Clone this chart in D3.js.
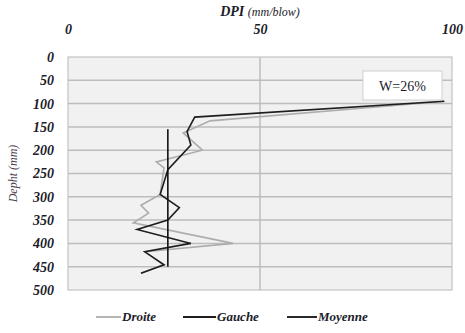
<!DOCTYPE html>
<html>
<head>
<meta charset="utf-8">
<script src="https://cdn.jsdelivr.net/npm/d3@7"></script>
<style>
  html, body { margin: 0; padding: 0; background: #ffffff; }
  svg { display: block; }
  svg text { font-family: "Liberation Serif", "Times New Roman", Tinos, "DejaVu Serif", serif; }
</style>
</head>
<body>
<svg id="chart" width="465" height="333"></svg>
<script>
// Depth profile (mm) against penetration index (mm/blow)
const droiteDepth = [95, 137, 163, 200, 225, 238, 295, 318, 335, 356, 400, 418, 446, 464];
const droiteDPI   = [98, 37, 30, 35, 23, 25, 24, 19, 21, 17, 43, 20, 25, 19];

const gaucheDepth = [95, 129, 160, 189, 242, 295, 323, 350, 370, 400, 418, 446, 464];
const gaucheDPI   = [98, 33, 31, 32, 26, 24, 29, 26, 18, 32, 20, 25, 19];

const moyenneDepth = [155, 450];
const moyenneDPI   = [26, 26];

const xTicks = [0, 50, 100];
const yTicks = [0, 50, 100, 150, 200, 250, 300, 350, 400, 450, 500];
const moistureLabel = "W=26%";

const svg = d3.select("#chart");
const margin = { left: 68, right: 13, top: 57, bottom: 43 };
const W = 465, H = 333;
const iw = W - margin.left - margin.right;
const ih = H - margin.top - margin.bottom;

const x = d3.scaleLinear().domain([0, 100]).range([margin.left, margin.left + iw]);
const y = d3.scaleLinear().domain([0, 500]).range([margin.top, margin.top + ih]);

const textCol = "#1c1c2a";

// plot background
svg.append("rect")
  .attr("x", x(0)).attr("y", y(0))
  .attr("width", x(100) - x(0)).attr("height", y(500) - y(0))
  .attr("fill", "#f1f1f1")
  .attr("stroke", "#c4c4c4").attr("stroke-width", 1.2);

// horizontal gridlines
svg.append("g").selectAll("line").data(yTicks.slice(1, -1)).join("line")
  .attr("x1", x(0)).attr("x2", x(100))
  .attr("y1", d => y(d)).attr("y2", d => y(d))
  .attr("stroke", "#bdbdbd").attr("stroke-width", 1.5);

// vertical gridline
svg.append("g").selectAll("line").data(xTicks.slice(1, -1)).join("line")
  .attr("x1", d => x(d)).attr("x2", d => x(d))
  .attr("y1", y(0)).attr("y2", y(500))
  .attr("stroke", "#bdbdbd").attr("stroke-width", 1.5);

// top axis labels
const xAxis = d3.axisTop(x).tickValues(xTicks).tickSize(0).tickPadding(23);
const gx = svg.append("g").attr("transform", `translate(0,${margin.top})`).call(xAxis)
  .attr("font-family", null);
gx.select(".domain").remove();
gx.selectAll("text")
  .attr("font-size", 14)
  .attr("font-weight", "bold").attr("font-style", "italic")
  .attr("fill", textCol);

// left axis labels
const yAxis = d3.axisLeft(y).tickValues(yTicks).tickSize(0).tickPadding(14);
const gy = svg.append("g").attr("transform", `translate(${margin.left},0)`).call(yAxis)
  .attr("font-family", null);
gy.select(".domain").remove();
gy.selectAll("text")
  .attr("font-size", 14)
  .attr("font-weight", "bold").attr("font-style", "italic")
  .attr("fill", textCol);

// axis titles
const xt = svg.append("text")
  .attr("x", x(50)).attr("y", 16)
  .attr("text-anchor", "middle")
  .attr("font-style", "italic").attr("fill", textCol);
xt.append("tspan").attr("font-size", 14).attr("font-weight", "bold").text("DPI ");
xt.append("tspan").attr("font-size", 12).text("(mm/blow)");

svg.append("text")
  .attr("transform", `translate(17,${(y(0) + y(500)) / 2}) rotate(-90)`)
  .attr("text-anchor", "middle")
  .attr("font-style", "italic")
  .attr("font-size", 12).attr("fill", "#4a4050")
  .text("Depht (mm)");

// profile lines
const line = d3.line().x(d => x(d[1])).y(d => y(d[0]));
const series = [
  { name: "Droite",  depth: droiteDepth,  dpi: droiteDPI,  color: "#adadad", width: 1.6 },
  { name: "Gauche",  depth: gaucheDepth,  dpi: gaucheDPI,  color: "#1e1e1e", width: 1.6 },
  { name: "Moyenne", depth: moyenneDepth, dpi: moyenneDPI, color: "#111111", width: 1.6 }
];
series.forEach(s => {
  svg.append("path")
    .datum(d3.zip(s.depth, s.dpi))
    .attr("d", line)
    .attr("fill", "none")
    .attr("stroke", s.color)
    .attr("stroke-width", s.width)
    .attr("stroke-linejoin", "miter");
});

// moisture content box
const bx = 363, by = 71, bw = 79, bh = 29;
svg.append("rect")
  .attr("x", bx).attr("y", by).attr("width", bw).attr("height", bh)
  .attr("fill", "#ffffff").attr("stroke", "#d0d0d0").attr("stroke-width", 1);
svg.append("text")
  .attr("x", bx + bw / 2).attr("y", by + bh / 2 + 5)
  .attr("text-anchor", "middle")
  .attr("font-size", 14)
  .attr("fill", textCol)
  .text(moistureLabel);

// legend
const legendY = 321;
const legendPos = [
  { lx: 96, tx: 122 },
  { lx: 183, tx: 217 },
  { lx: 287, tx: 318 }
];
series.forEach((s, i) => {
  const p = legendPos[i];
  svg.append("line")
    .attr("x1", p.lx).attr("x2", p.tx - 1)
    .attr("y1", legendY - 4).attr("y2", legendY - 4)
    .attr("stroke", s.color).attr("stroke-width", 1.8);
  svg.append("text")
    .attr("x", p.tx).attr("y", legendY)
    .attr("font-size", 13)
    .attr("font-weight", "bold").attr("font-style", "italic")
    .attr("fill", textCol)
    .text(s.name);
});
</script>
</body>
</html>
